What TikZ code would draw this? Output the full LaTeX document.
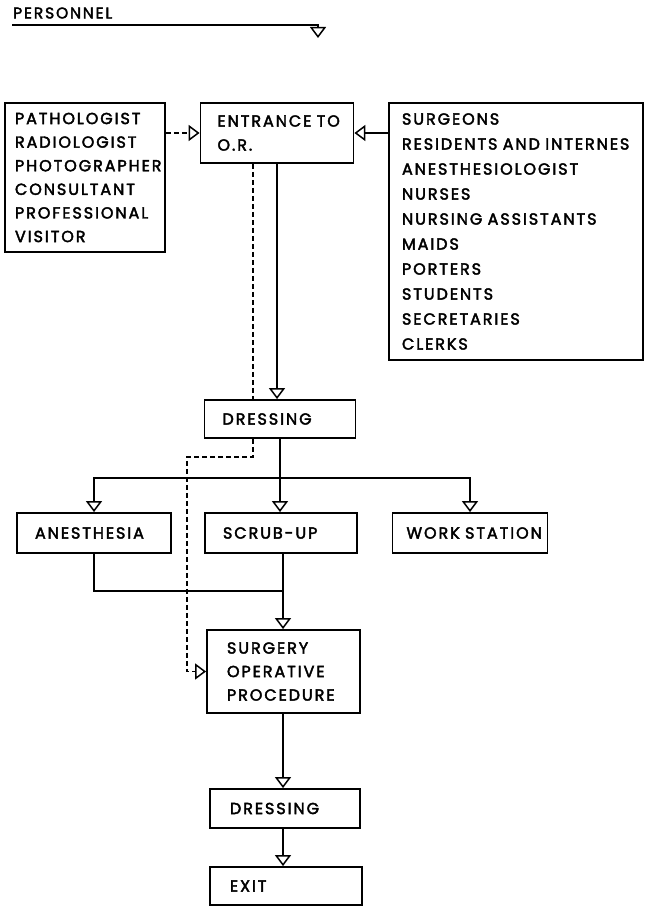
\documentclass[tikz,border=0pt]{standalone}
\usepackage{fontspec}
\setmainfont[LetterSpace=12,FakeBold=2.5]{Poppins}
\usetikzlibrary{arrows.meta,positioning}
\tikzset{
  room/.style={draw, line width=1.8pt, inner ysep=0pt, align=left,
    font=\fontsize{16}{23.6}\selectfont},
  flow/.style={draw, line width=1.5pt, -{Triangle[open,length=11pt,width=16pt,line width=1.5pt]}},
  link/.style={draw, line width=1.5pt},
  guest flow/.style={flow, dashed, dash pattern=on 5pt off 3pt},
  guest link/.style={link, dashed, dash pattern=on 5pt off 3pt},
}

\begin{document}
\begin{tikzpicture}[x=1pt,y=-1pt]
  \useasboundingbox (0,0) rectangle (648,912);

  % heading
  \node[font=\fontsize{15.5}{17}\selectfont, anchor=west, inner sep=0pt] (title) at (13,13) {PERSONNEL};
  \coordinate (rule start) at (12,25);
  \coordinate (rule end) at (318,38);
  \draw[flow, line width=1.8pt] (rule start) -| (rule end);

  % who comes in
  \node[room, inner xsep=10pt, text width=140pt, minimum height=149pt] (visitors) at (85,177.5)
    {PATHOLOGIST\\RADIOLOGIST\\PHOTOGRAPHER\\CONSULTANT\\PROFESSIONAL\\VISITOR};
  \node[room, inner xsep=17pt, text width=119pt, minimum height=60pt, font=\fontsize{16}{24}\selectfont] (entrance) at (277,133)
    {\mbox{ENTRANCE TO}\\O.R.};
  \node[room, inner xsep=13pt, text width=228pt, minimum height=257pt, font=\fontsize{16}{25}\selectfont] (staff) at (516,231.5)
    {SURGEONS\\\mbox{RESIDENTS AND INTERNES}\\ANESTHESIOLOGIST\\NURSES\\\mbox{NURSING ASSISTANTS}\\MAIDS\\PORTERS\\STUDENTS\\SECRETARIES\\CLERKS};

  \draw[guest flow] (visitors.east |- entrance.west) -- (entrance.west);
  \draw[flow] (staff.west |- entrance.east) -- (entrance.east);

  % dressing and the three work areas
  \node[room, inner xsep=18pt, text width=115pt, minimum height=38pt] (dressing) at (280,419) {DRESSING};
  \node[room, inner xsep=18pt, text width=118pt, minimum height=40pt] (anesthesia) at (94,533) {ANESTHESIA};
  \node[room, inner xsep=18pt, text width=116pt, minimum height=40pt] (scrub) at (281,533) {SCRUB-UP};
  \node[room, inner xsep=14pt, text width=127pt, minimum height=40pt] (workst) at (470,533) {\mbox{WORK STATION}};

  \draw[flow] (entrance.south) -- (entrance.south |- dressing.north);
  \draw[guest link] ([xshift=-24pt]entrance.south) -- ([xshift=-24pt]entrance.south |- dressing.north);

  \coordinate (split) at (280,478);
  \draw[link] (dressing.south) -- (split);
  \draw[flow] (split) -- (split |- scrub.north);
  \draw[flow] (split) -| (anesthesia.north);
  \draw[flow] (split) -| (workst.north);

  % operating room and way out
  \node[room, inner xsep=20pt, text width=113pt, minimum height=83pt, font=\fontsize{16}{23.5}\selectfont] (surgery) at (283.5,671.5)
    {SURGERY\\OPERATIVE\\PROCEDURE};
  \node[room, inner xsep=20pt, text width=110pt, minimum height=39pt] (dressing2) at (285,808.5) {DRESSING};
  \node[room, inner xsep=20pt, text width=112pt, minimum height=38pt] (exit) at (286,886) {EXIT};

  \coordinate (join) at (283,591);
  \draw[link] (anesthesia.south) |- (join);
  \draw[link] (join |- scrub.south) -- (join);
  \draw[flow] (join) -- (join |- surgery.north);

  \coordinate (bypass) at (187,457);
  \draw[guest flow] ([xshift=-27pt]dressing.south) |- (bypass) |- (surgery.west);

  \draw[flow] (join |- surgery.south) -- (join |- dressing2.north);
  \draw[flow] (join |- dressing2.south) -- (join |- exit.north);
\end{tikzpicture}
\end{document}
